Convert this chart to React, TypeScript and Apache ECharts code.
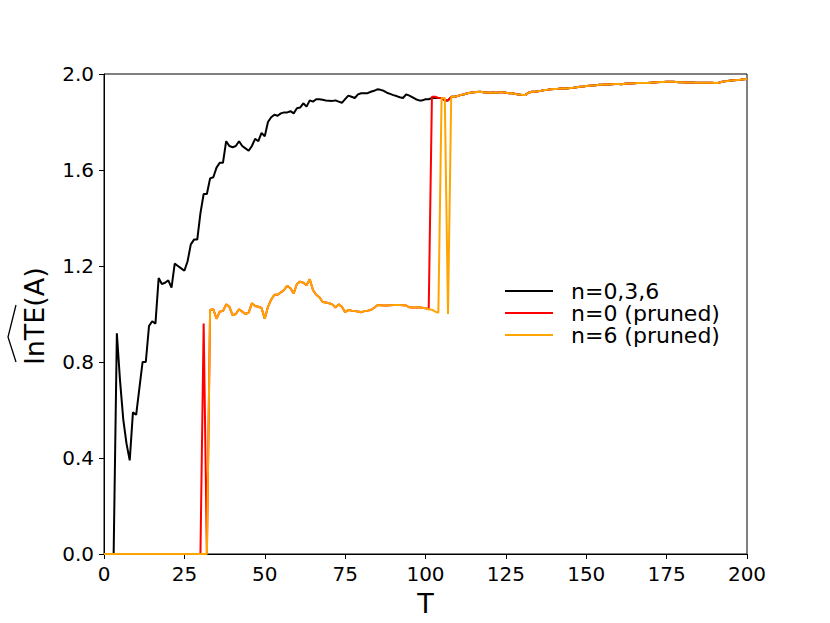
import React, { useEffect, useRef } from "react";
import * as echarts from "echarts";

// T = 0..107, series n=0,3,6 (before convergence)
const blackHead: number[] = [
  0, 0, 0, 0, 0.92, 0.72, 0.56, 0.46, 0.39, 0.59,
  0.58, 0.69, 0.8, 0.8, 0.95, 0.97, 0.96, 1.15, 1.125, 1.13,
  1.14, 1.11, 1.21, 1.2, 1.19, 1.18, 1.22, 1.29, 1.31, 1.31,
  1.42, 1.5, 1.5, 1.565, 1.57, 1.61, 1.63, 1.63, 1.72, 1.7,
  1.695, 1.7, 1.72, 1.7, 1.69, 1.68, 1.7, 1.73, 1.72, 1.755,
  1.74, 1.8, 1.82, 1.83, 1.826, 1.836, 1.84, 1.84, 1.845, 1.836,
  1.857, 1.86, 1.878, 1.864, 1.89, 1.885, 1.895, 1.895, 1.893, 1.89,
  1.889, 1.888, 1.89, 1.885, 1.88, 1.895, 1.91, 1.905, 1.9, 1.915,
  1.92, 1.92, 1.92, 1.926, 1.93, 1.936, 1.934, 1.93, 1.922, 1.917,
  1.912, 1.908, 1.903, 1.9, 1.915, 1.91, 1.903, 1.895, 1.89, 1.89,
  1.895, 1.895, 1.9, 1.9, 1.9, 1.9, 1.89, 1.89,
];

// T = 0..107, series n=6 (pruned)
const orangeHead: number[] = [
  0, 0, 0, 0, 0, 0, 0, 0, 0, 0,
  0, 0, 0, 0, 0, 0, 0, 0, 0, 0,
  0, 0, 0, 0, 0, 0, 0, 0, 0, 0,
  0, 0, 0, 1.017, 1.02, 0.98, 1.01, 1.012, 1.04, 1.03,
  0.995, 1.0, 1.02, 1.01, 1.0, 1.006, 1.045, 1.033, 1.03, 1.025,
  0.98, 1.03, 1.06, 1.08, 1.08, 1.09, 1.1, 1.118, 1.107, 1.086,
  1.125, 1.135, 1.13, 1.12, 1.145, 1.1, 1.08, 1.07, 1.05, 1.048,
  1.045, 1.04, 1.027, 1.04, 1.03, 1.007, 1.017, 1.014, 1.012, 1.01,
  1.007, 1.012, 1.014, 1.017, 1.025, 1.037, 1.036, 1.035, 1.035, 1.036,
  1.037, 1.037, 1.037, 1.036, 1.035, 1.028, 1.027, 1.027, 1.028, 1.026,
  1.024, 1.02, 1.018, 1.01, 1.005, 1.9, 1.9, 1.0,
];

// series n=0 (pruned): T = 0..32, then follows n=6 up to T=101, then T = 102..107
const redStart: number[] = [
  0, 0, 0, 0, 0, 0, 0, 0, 0, 0,
  0, 0, 0, 0, 0, 0, 0, 0, 0, 0,
  0, 0, 0, 0, 0, 0, 0, 0, 0, 0,
  0, 0.96, 0,
];
const redLate: number[] = [1.905, 1.905, 1.9, 1.9, 1.89, 1.89];

// T = 108..200, all three series coincide
const converged: number[] = [
  1.905, 1.905, 1.908, 1.913, 1.915, 1.92, 1.922, 1.924, 1.925, 1.926,
  1.924, 1.923, 1.922, 1.923, 1.922, 1.924, 1.924, 1.922, 1.92, 1.92,
  1.917, 1.915, 1.913, 1.912, 1.922, 1.926, 1.926, 1.928, 1.93, 1.933,
  1.934, 1.936, 1.937, 1.938, 1.94, 1.941, 1.94, 1.942, 1.943, 1.945,
  1.947, 1.948, 1.95, 1.951, 1.952, 1.953, 1.955, 1.955, 1.957, 1.956,
  1.957, 1.958, 1.958, 1.957, 1.959, 1.96, 1.96, 1.961, 1.962, 1.962,
  1.963, 1.963, 1.964, 1.965, 1.966, 1.967, 1.967, 1.968, 1.968, 1.968,
  1.967, 1.966, 1.966, 1.965, 1.965, 1.965, 1.964, 1.964, 1.964, 1.964,
  1.964, 1.964, 1.963, 1.963, 1.967, 1.97, 1.971, 1.973, 1.974, 1.975,
  1.976, 1.978, 1.979,
];

const seriesNames = ["n=0,3,6", "n=0 (pruned)", "n=6 (pruned)"];
const seriesColors = ["#000000", "#ff0000", "#ffa500"];
const yTicks = { min: 0, max: 2.0, interval: 0.4 };
const xTicks = { min: 0, max: 200, interval: 25 };

const FONT = "DejaVu Sans";

function toPairs(values: number[]): [number, number][] {
  return values.map((v, i) => [i, v]);
}

export default function App() {
  const ref = useRef<HTMLDivElement>(null);

  useEffect(() => {
    if (!ref.current) return;
    const chart = echarts.init(ref.current, undefined, { renderer: "svg" });

    const black = [...blackHead, ...converged];
    const orange = [...orangeHead, ...converged];
    const red = [...redStart, ...orangeHead.slice(33, 102), ...redLate, ...converged];
    const data = [black, red, orange];

    chart.setOption({
      animation: false,
      backgroundColor: "#ffffff",
      textStyle: { fontFamily: FONT },
      grid: {
        left: 104,
        right: 83,
        top: 74,
        bottom: 69,
        show: true,
        borderColor: "#000000",
        borderWidth: 1,
        backgroundColor: "transparent",
      },
      legend: {
        orient: "vertical",
        left: 505,
        top: 280,
        icon: "rect",
        itemWidth: 48,
        itemHeight: 2,
        itemGap: 0,
        padding: 0,
        data: seriesNames,
        textStyle: {
          fontFamily: FONT,
          fontSize: 22,
          color: "#000000",
          padding: [0, 0, 0, 13],
        },
      },
      xAxis: {
        type: "value",
        min: xTicks.min,
        max: xTicks.max,
        interval: xTicks.interval,
        name: "T",
        nameLocation: "middle",
        nameGap: 36,
        nameTextStyle: { fontFamily: FONT, fontSize: 27, color: "#000000" },
        axisLine: { show: true, lineStyle: { color: "#000000", width: 1 } },
        axisTick: { show: true, inside: false, length: 5, lineStyle: { color: "#000000" } },
        axisLabel: { fontFamily: FONT, fontSize: 20, color: "#000000", margin: 10 },
        splitLine: { show: false },
      },
      yAxis: {
        type: "value",
        min: yTicks.min,
        max: yTicks.max,
        interval: yTicks.interval,
        axisLine: { show: true, lineStyle: { color: "#000000", width: 1 } },
        axisTick: { show: true, inside: false, length: 5, lineStyle: { color: "#000000" } },
        axisLabel: {
          fontFamily: FONT,
          fontSize: 20,
          color: "#000000",
          margin: 10,
          formatter: (v: number) => v.toFixed(1),
        },
        splitLine: { show: false },
      },
      graphic: [
        {
          type: "text",
          x: 34,
          y: 316,
          rotation: Math.PI / 2,
          style: {
            text: "lnTE(A)",
            fontFamily: FONT,
            fontSize: 27,
            fill: "#000000",
            align: "center",
            verticalAlign: "middle",
          },
        },
        {
          type: "polyline",
          shape: { points: [[16, 305], [8, 337], [16, 362]] },
          style: { stroke: "#000000", lineWidth: 1.3, fill: "none" },
        },
      ],
      series: seriesNames.map((name, k) => ({
        name,
        type: "line",
        data: toPairs(data[k]),
        symbol: "none",
        showSymbol: false,
        clip: false,
        color: seriesColors[k],
        lineStyle: { color: seriesColors[k], width: 2 },
        z: 2 + k,
      })),
    });

    return () => chart.dispose();
  }, []);

  return (
    <div
      ref={ref}
      style={{ position: "absolute", left: 0, top: 0, width: 830, height: 623 }}
    />
  );
}
